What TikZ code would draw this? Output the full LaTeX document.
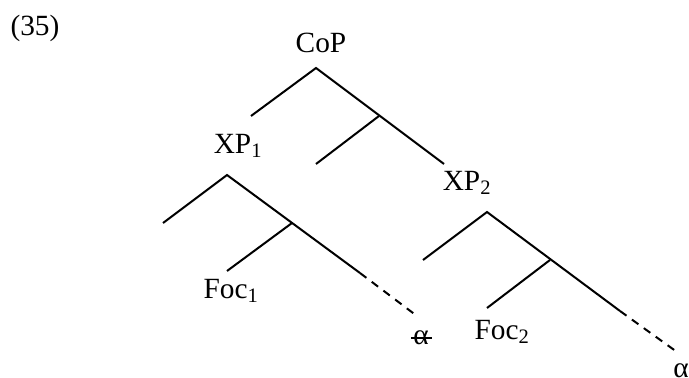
\documentclass[tikz,border=0pt]{standalone}
\usepackage{fontspec}
\setmainfont{Liberation Serif}
\usepackage{tikz}

\begin{document}
\begin{tikzpicture}[x=0.75pt, y=-0.75pt, line width=1.5pt, font=\fontsize{22}{26}\selectfont]
	\tikzstyle{every node}=[inner sep=0pt]
	\tikzstyle{gap}=[dashed, dash pattern=on 6pt off 5pt]
	\useasboundingbox (0,0) rectangle (689,378);
	\node (ex) at (35,28) {(35)};
	% CoP and its branches
	\node (cop) at (321,43) {CoP};
	\coordinate (co) at (316,68);
	\coordinate (co-l) at (251,116);
	\coordinate (co-m) at (379,116);
	\coordinate (co-ml) at (316,164);
	\coordinate (co-r) at (444,164);
	\draw (co-l) -- (co) -- (co-r);
	\draw (co-m) -- (co-ml);
	% first conjunct
	\node (xp1) at (238,146) {XP\textsubscript{1}};
	\coordinate (x1) at (227,175);
	\coordinate (x1-l) at (163,223);
	\coordinate (x1-m) at (292,223);
	\coordinate (x1-f) at (227,271);
	\coordinate (x1-d) at (360,273);
	\coordinate (x1-e) at (417,316);
	\node (foc1) at (231,291) {Foc\textsubscript{1}};
	\node (a1) at (421,338) {α};
	\draw (x1-l) -- (x1) -- (x1-d);
	\draw (x1-m) -- (x1-f);
	\draw[gap] (x1-d) -- (x1-e);
	\draw[line width=1pt] ([xshift=-1pt]a1.west) -- ([xshift=2pt]a1.east);
	% second conjunct
	\node (xp2) at (467,183) {XP\textsubscript{2}};
	\coordinate (x2) at (487,212);
	\coordinate (x2-l) at (423,260);
	\coordinate (x2-m) at (550,260);
	\coordinate (x2-f) at (487,308);
	\coordinate (x2-d) at (620,311);
	\coordinate (x2-e) at (677,352);
	\node (foc2) at (502,332) {Foc\textsubscript{2}};
	\node (a2) at (681,371) {α};
	\draw (x2-l) -- (x2) -- (x2-d);
	\draw (x2-m) -- (x2-f);
	\draw[gap] (x2-d) -- (x2-e);
\end{tikzpicture}
\end{document}
